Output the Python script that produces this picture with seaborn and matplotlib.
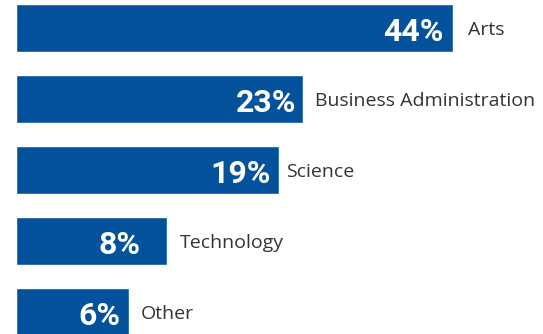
import matplotlib
matplotlib.use("Agg")
import matplotlib.pyplot as plt
import seaborn as sns
import pandas as pd

# Data
categories = ["Arts", "Business Administration", "Science", "Technology", "Other"]
percent_labels = ["44%", "23%", "19%", "8%", "6%"]
# bar lengths as drawn in the infographic (not proportional to the percentages)
bar_lengths = [437, 287, 263, 151, 113]

df = pd.DataFrame({"category": categories, "length": bar_lengths})

sns.set_theme(style="white")
plt.rcParams["font.family"] = ["Roboto", "DejaVu Sans"]

BLUE = "#03529B"
PX = 0.72  # points per pixel at dpi 100

# label placement (pixels), matching the hand-made layout
pct_pad = [9, 7, 8, 26, 9]
cat_gap = [15, 12, 7, 13, 12]

fig = plt.figure(figsize=(5.43, 3.34), dpi=100)
ax = fig.add_axes([0, 0, 1, 1])

sns.barplot(data=df, y="category", x="length", color=BLUE, orient="h",
            width=48 / 71, saturation=1, ax=ax)

ax.set_xlim(-16, 527)
ax.set_ylim(4.31, -0.394)
ax.axis("off")

for i, (cat, lab, length) in enumerate(zip(categories, percent_labels, bar_lengths)):
    ax.annotate(lab, xy=(length, i), xytext=(-pct_pad[i] * PX, -1.5 * PX),
                textcoords="offset points", ha="right", va="center_baseline",
                color="white", fontsize=23, fontweight="bold")
    ax.annotate(cat, xy=(length, i), xytext=(cat_gap[i] * PX, 0),
                textcoords="offset points", ha="left", va="center_baseline",
                color="#333333", fontsize=14, family=["Open Sans", "DejaVu Sans"])

fig.savefig("out.png", dpi=100)
